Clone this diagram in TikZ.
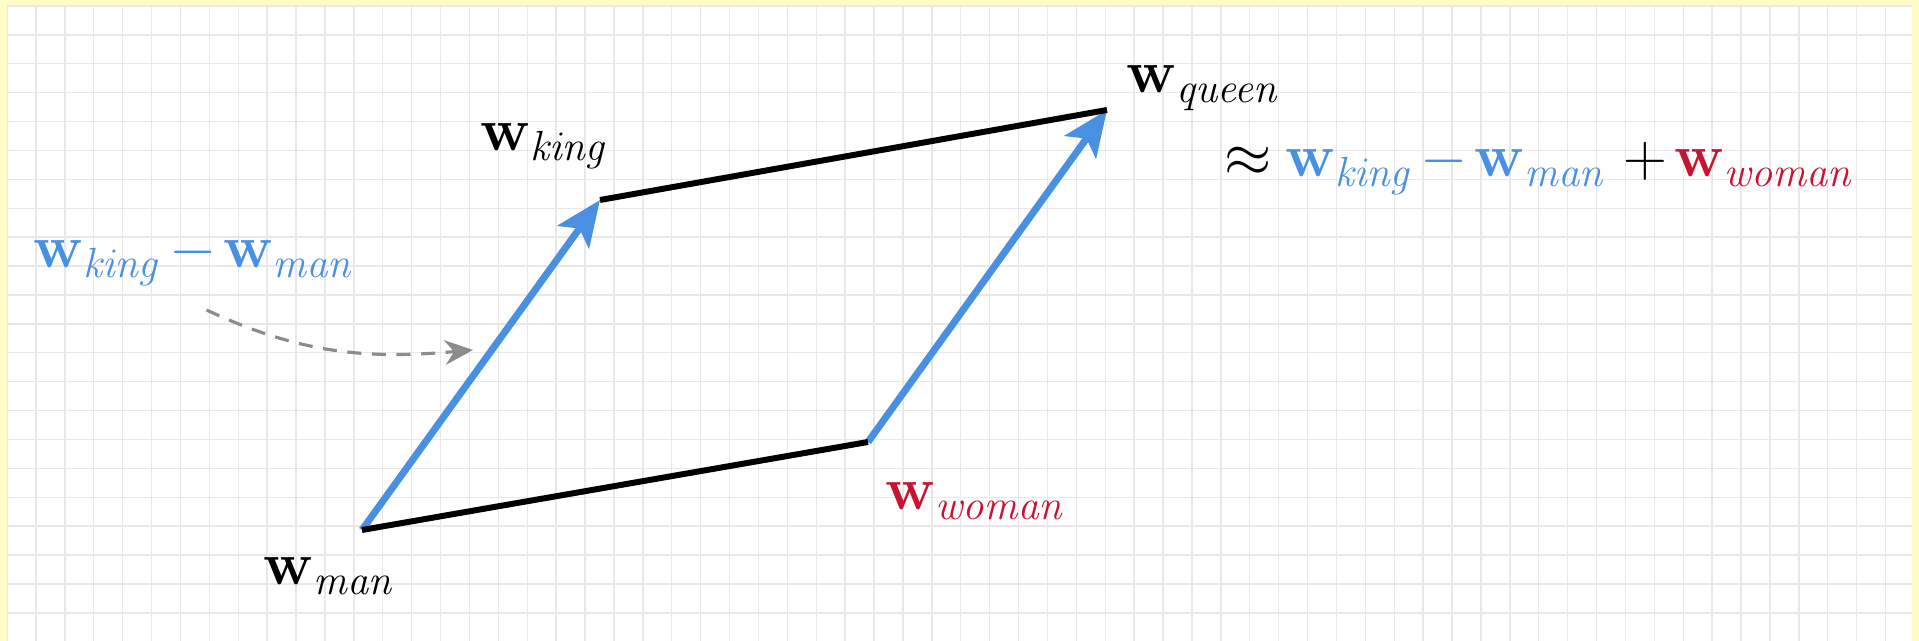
\documentclass[tikz,border=0pt]{standalone}
\usepackage{amsmath}
\usepackage{amssymb}
\usepackage{tikz}
\usetikzlibrary{arrows.meta, positioning}

\definecolor{vecblue}{RGB}{74,144,226}
\definecolor{vecred}{RGB}{200,20,50}
\definecolor{paper}{RGB}{255,252,200}
\newcommand{\wv}[1]{\mathbf{w}_{\mathit{#1}}}

\begin{document}
\begin{tikzpicture}[
  vec/.style={draw=vecblue, line width=2pt, -{Stealth[length=13pt,width=11pt,inset=3pt]}},
  side/.style={draw=black, line width=1.7pt},
  hint/.style={draw=black!45, line width=0.9pt, dash pattern=on 4pt off 3pt, -{Stealth[length=8pt,width=7pt]}},
  gridline/.style={draw=black!9, line width=0.4pt},
  every node/.style={anchor=base west, inner sep=0pt, font=\fontsize{17.28}{20}\selectfont}
  ]

  \useasboundingbox (0,0) rectangle (19.19,6.41);
  \fill[paper] (0,0) rectangle (19.19,6.41);
  \fill[white] (0.07,0) rectangle (19.12,6.35);
  \begin{scope}
    \clip (0.07,0) rectangle (19.12,6.35);
    \draw[gridline, step=0.289, shift={(0.07,0.281)}] (-0.5,-0.5) grid (19.5,6.5);
  \end{scope}

  \coordinate (man)   at (3.62,1.11);
  \coordinate (king)  at (6.00,4.41);
  \coordinate (woman) at (8.68,1.99);
  \coordinate (queen) at (11.07,5.31);

  \draw[vec] (man) -- (king);
  \draw[vec] (woman) -- (queen);
  \draw[side] (man) -- (woman);
  \draw[side] (king) -- (queen);

  \node (kinglbl)  at (4.80,4.90) {$\wv{king}$};
  \node (queenlbl) at (11.26,5.48) {$\wv{queen}$};
  \node (manlbl)   at (2.63,0.56) {$\wv{man}$};
  \node[text=vecred] (womanlbl) at (8.85,1.31) {$\wv{woman}$};
  \node[text=vecblue] (difflbl) at (0.33,3.73)
    {$\medmuskip=2mu \wv{king} - \wv{man}$};
  \node (approx) at (12.24,4.64)
    {$\medmuskip=2mu \thickmuskip=4mu
      \approx \textcolor{vecblue}{\wv{king} - \wv{man}}\, + \textcolor{vecred}{\wv{woman}}$};

  % dashed hint onto the king - man vector
  \coordinate (hinttip) at (4.73,2.91);
  \draw[hint] ([xshift=1.2mm,yshift=-2.4mm]difflbl.south) to[out=-25,in=185] (hinttip);

\end{tikzpicture}
\end{document}
